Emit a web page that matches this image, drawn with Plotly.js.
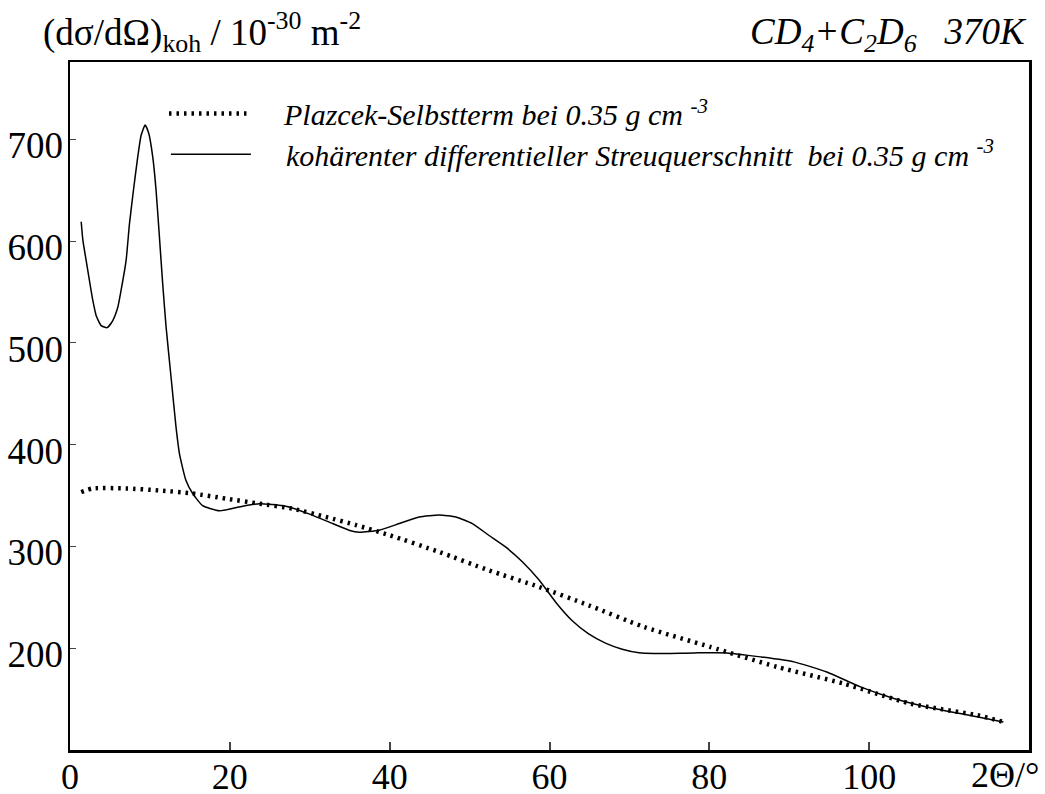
<!DOCTYPE html>
<html>
<head>
<meta charset="utf-8">
<script src="https://cdn.plot.ly/plotly-3.0.1.min.js"></script>
<style>html,body{margin:0;padding:0;background:#fff;}</style>
</head>
<body>
<div id="chart" style="width:1045px;height:794px;"></div>
<script>
// 2Theta / degree
const cohX = [1.40, 1.61, 2.02, 2.44, 2.85, 3.27, 3.90, 4.65, 5.35, 5.98, 6.40, 7.02, 7.44, 7.94, 8.48, 8.90, 9.40, 9.85, 10.35, 10.77, 11.19, 11.60, 12.02, 12.65, 13.27,
  13.7, 14.5, 15.35, 16.6, 18.7, 21.6, 23.7, 27.0, 29.9, 32.85, 34.9, 36.2, 38.7, 41.2, 43.7, 46.2, 48.3, 50.35, 52.4, 54.5, 56.6, 58.7, 60.8, 62.85, 64.9, 67.0, 69.1, 71.2, 73.1, 78.1, 82.2, 86.4, 90.6, 94.7, 98.9, 103.1, 107.2, 111.4, 116.8];
// coherent differential cross section / 1e-30 m^2
const cohY = [619, 601, 581, 561, 542, 527, 517, 515, 522, 535, 552, 581, 617, 650, 683, 704, 714, 706, 683, 650, 604, 558, 516, 466, 417,
  391, 365, 352, 340, 335, 339.5, 342, 339.5, 332, 322.5, 316, 314, 316, 322.5, 329, 331, 329, 322.5, 311, 299.5, 285, 267, 245, 227, 214, 205, 199, 195.5, 194.8, 195.4, 195.4, 191.5, 186.6, 176.7, 162, 150.6, 142.3, 135.8, 127.6];
// Placzek self term
const plaX = [1.4, 2.85, 7.0, 11.2, 15.35, 19.5, 23.7, 27.9, 32.0, 35.8, 40.0, 46.2, 52.4, 58.7, 64.9, 71.8, 80.1, 88.5, 96.8, 105.1, 113.5, 116.8];
const plaY = [353.5, 357, 357, 355, 352, 347, 342, 337, 329, 321, 311, 294.6, 276.6, 260.2, 242.2, 221, 201.3, 181.6, 165.3, 145.7, 134.2, 127.6];

const xTicks = [0, 20, 40, 60, 80, 100];
const yTicks = [200, 300, 400, 500, 600, 700];

const serif = 'Liberation Serif';
const pad = '&nbsp;&nbsp;&nbsp;&nbsp;';

const traces = [
  {x: plaX, y: plaY, mode: 'lines', type: 'scatter', legend: 'legend',
   name: pad + 'Plazcek-Selbstterm bei 0.35 g cm <sup>-3</sup>',
   line: {color: '#000', width: 4.5, dash: '2.5px,5px', shape: 'spline', smoothing: 0.6}},
  {x: cohX, y: cohY, mode: 'lines', type: 'scatter', legend: 'legend2',
   name: pad + 'kohärenter differentieller Streuquerschnitt &nbsp;bei 0.35 g cm <sup>-3</sup>',
   line: {color: '#000', width: 1.5, shape: 'spline', smoothing: 0.5}}
];

const legendFont = {family: serif, size: 30, color: '#000', style: 'italic'};

const layout = {
  width: 1045, height: 794,
  margin: {l: 70, r: 16, t: 62, b: 44},
  paper_bgcolor: '#fff', plot_bgcolor: '#fff',
  font: {family: serif, color: '#000', size: 36},
  xaxis: {range: [0, 120], tickvals: xTicks, ticks: 'inside', ticklen: 8, tickwidth: 2,
    showline: true, linewidth: 2.5, linecolor: '#000', mirror: true, showgrid: false, zeroline: false,
    tickfont: {family: serif, size: 36, color: '#000'}, ticklabelstandoff: -7},
  yaxis: {range: [100, 776], tickvals: yTicks, ticks: 'inside', ticklen: 6, tickwidth: 1,
    showline: true, linewidth: 2.5, linecolor: '#000', mirror: true, showgrid: false, zeroline: false,
    tickfont: {family: serif, size: 37, color: '#000'}, ticklabelshift: 6, ticklabelstandoff: -3},
  showlegend: true,
  legend: {x: 0.098, y: 0.925, xanchor: 'left', yanchor: 'middle', bgcolor: 'rgba(0,0,0,0)',
    font: legendFont, itemwidth: 80, borderwidth: 0},
  legend2: {x: 0.1, y: 0.866, xanchor: 'left', yanchor: 'middle', bgcolor: 'rgba(0,0,0,0)',
    font: legendFont, itemwidth: 80, borderwidth: 0},
  annotations: [
    {xref: 'paper', yref: 'paper', x: -0.03, y: 1.0, xanchor: 'left', yanchor: 'bottom', yshift: 2, showarrow: false,
     text: '(dσ/dΩ)<sub>koh</sub> / 10<sup>-30</sup> m<sup>-2</sup>', font: {family: serif, size: 37, color: '#000'}},
    {xref: 'paper', yref: 'paper', x: 1.0, y: 1.0, xanchor: 'right', yanchor: 'bottom', yshift: 2, showarrow: false,
     text: 'CD<sub>4</sub>+C<sub>2</sub>D<sub>6</sub>&nbsp;&nbsp;&nbsp;370K', font: {family: serif, size: 37, color: '#000', style: 'italic'}},
    {xref: 'x', yref: 'paper', x: 117, y: 0, xanchor: 'center', yanchor: 'top', yshift: -3, showarrow: false,
     text: '2Θ/°', font: {family: serif, size: 36, color: '#000'}}
  ]
};

Plotly.newPlot('chart', traces, layout, {displayModeBar: false, staticPlot: true});
</script>
</body>
</html>
